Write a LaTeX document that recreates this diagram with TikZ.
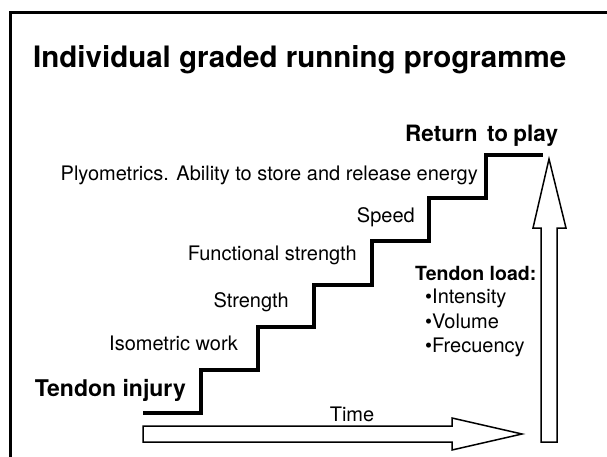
\documentclass[tikz,border=0pt]{standalone}
\usepackage{fontspec}
\setmainfont{TeX Gyre Heros}
\tikzset{
  steptext/.style={anchor=base east, inner sep=0pt, font=\fontsize{20}{24}\selectfont},
  loaditem/.style={anchor=base west, inner sep=0pt, font=\fontsize{20}{24}\selectfont},
  boldtext/.style={inner sep=0pt, font=\bfseries\fontsize{#1}{#1}\selectfont},
  blockarrow/.style={draw, line width=1.5pt, fill=white, line join=miter}
}
\begin{document}
\begin{tikzpicture}[x=1pt, y=-1pt]
    \tikzset{>=latex}
    \path[use as bounding box, clip] (0,0) rectangle (607,457);
    \draw[line width=3pt] (10,470) -- (10,13) -- (620,13);
    \node[boldtext=29.5, anchor=base west] (title) at (33,68) {Individual graded running programme};
    \coordinate (S) at (143,413);
    \coordinate (E) at (543,155);
    \draw[line width=4pt] (S) -| (201,370) -| (258,327) -| (314,285) -| (372,241)
        -| (429,198) -| (486,155) -- (E);
    \node[boldtext=23, anchor=base east] (injury) at (186,396) {Tendon injury};
    \node[steptext] (iso) at (238,350) {Isometric work};
    \node[steptext] (str) at (289,307) {Strength};
    \node[steptext] (fun) at (357,260) {Functional strength};
    \node[steptext] (spd) at (415,222) {Speed};
    \node[steptext] (ply) at (478,180) {Plyometrics. Ability to store and release energy};
    \node[boldtext=22.5, anchor=base west] (play) at (405,142) {Return\hspace{0.15em} to\hspace{-0.05em} play};
    \node[boldtext=19.5, anchor=base west] (load) at (415,280) {Tendon load:};
    \node[loaditem] (int) at (425,303) {\textbullet Intensity};
    \node[loaditem] (vol) at (425,328) {\textbullet Volume};
    \node[loaditem] (fre) at (425,352) {\textbullet Frecuency};
    \draw[blockarrow] (143,426) -- (452,426) -- (452,418) -- (522,434) -- (452,450)
        -- (452,442) -- (143,442) -- cycle;
    \node[steptext, anchor=base] (time) at (352,421) {Time};
    \draw[blockarrow] (541,442) -- (541,228) -- (533,228) -- (549,159) -- (566,228)
        -- (557,228) -- (557,442) -- cycle;
\end{tikzpicture}
\end{document}
